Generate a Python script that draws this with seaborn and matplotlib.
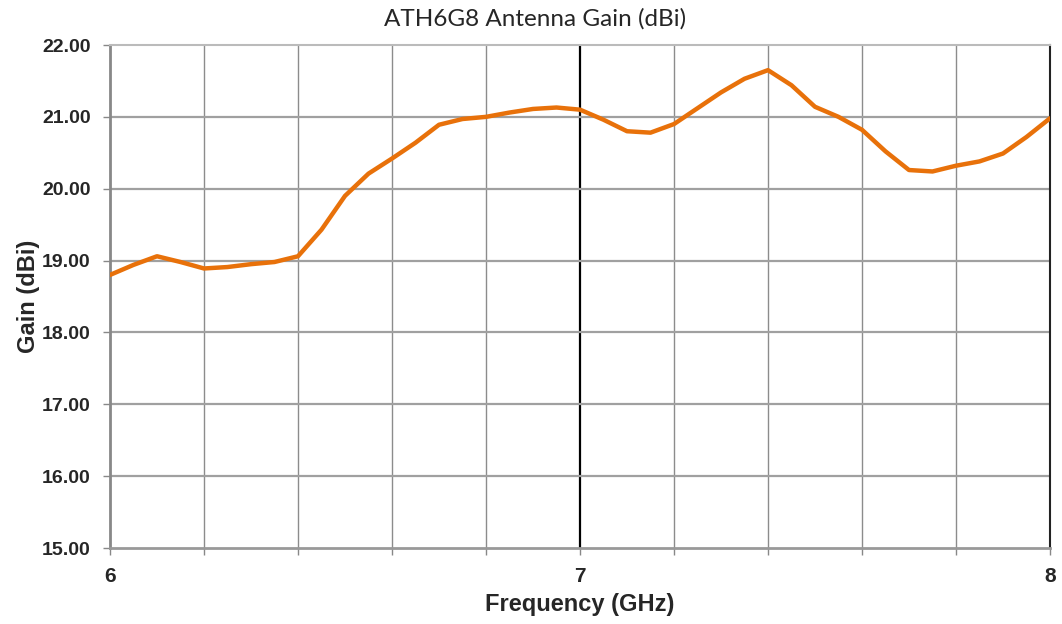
import matplotlib
matplotlib.use("Agg")
import matplotlib.pyplot as plt
import seaborn as sns
import pandas as pd

freq_ghz = [6.00, 6.05, 6.10, 6.15, 6.20, 6.25, 6.30, 6.35, 6.40, 6.45,
            6.50, 6.55, 6.60, 6.65, 6.70, 6.75, 6.80, 6.85, 6.90, 6.95,
            7.00, 7.05, 7.10, 7.15, 7.20, 7.25, 7.30, 7.35, 7.40, 7.45,
            7.50, 7.55, 7.60, 7.65, 7.70, 7.75, 7.80, 7.85, 7.90, 7.95, 8.00]
gain_dbi = [18.80, 18.94, 19.06, 18.98, 18.89, 18.91, 18.95, 18.98, 19.06, 19.43,
            19.90, 20.21, 20.42, 20.64, 20.89, 20.97, 21.00, 21.06, 21.11, 21.13,
            21.10, 20.96, 20.80, 20.78, 20.90, 21.12, 21.34, 21.53, 21.65, 21.44,
            21.14, 21.00, 20.82, 20.52, 20.26, 20.24, 20.32, 20.38, 20.49, 20.72, 20.98]
x_ticks = [6, 7, 8]
x_tick_labels = ["6", "7", "8"]
y_ticks = [15, 16, 17, 18, 19, 20, 21, 22]
y_tick_labels = ["15.00", "16.00", "17.00", "18.00", "19.00", "20.00", "21.00", "22.00"]
x_grid = [6.2, 6.4, 6.6, 6.8, 7.2, 7.4, 7.6, 7.8]

title = "ATH6G8 Antenna Gain (dBi)"
x_label = "Frequency (GHz)"
y_label = "Gain (dBi)"

sns.set_style("white")
plt.rcParams['font.family'] = ['Liberation Sans', 'DejaVu Sans']

df = pd.DataFrame({"freq": freq_ghz, "gain": gain_dbi})

fig = plt.figure(figsize=(10.62, 6.24), dpi=100)
ax = fig.add_axes([110/1062, 1 - 548/624, 940/1062, 503/624])

# grid
for xv in x_grid:
    ax.axvline(xv, color="#8c8c8c", lw=1.0, zorder=1)
ax.axvline(7.0, color="black", lw=1.6, zorder=1)
for yv in y_ticks[1:-1]:
    ax.axhline(yv, color="#a0a0a0", lw=1.6, zorder=1)

sns.lineplot(data=df, x="freq", y="gain", ax=ax, color="#E8710A", lw=3.2,
             zorder=3, legend=False, solid_joinstyle="round")

ax.set_xlim(6, 8)
ax.set_ylim(15, 22)
ax.set_xticks(x_ticks)
ax.set_xticklabels(x_tick_labels, fontsize=15, fontweight="bold")
ax.set_xticks(x_grid, minor=True)
ax.set_yticks(y_ticks)
ax.set_yticklabels(y_tick_labels, fontsize=14, fontweight="bold")
ax.tick_params(axis="y", which="major", length=5, width=1, color="#888888",
               direction="out", left=True, pad=9)
ax.tick_params(axis="x", which="both", length=5, width=1, color="#888888",
               direction="out", bottom=True, pad=9)

for side, col, w in [("left", "#888888", 2.0), ("bottom", "#999999", 2.0),
                     ("top", "#bbbbbb", 1.5), ("right", "#222222", 1.5)]:
    ax.spines[side].set_visible(True)
    ax.spines[side].set_color(col)
    ax.spines[side].set_linewidth(w)

ax.set_xlabel(x_label, fontsize=17, fontweight="bold", labelpad=5)
ax.set_ylabel(y_label, fontsize=17, fontweight="bold", labelpad=1)
fig.text(535/1062, 1 - 19/624, title, ha="center", va="center", fontsize=17.5,
         family=["Lato", "DejaVu Sans"])

fig.savefig("out.png", dpi=100, facecolor="white")
